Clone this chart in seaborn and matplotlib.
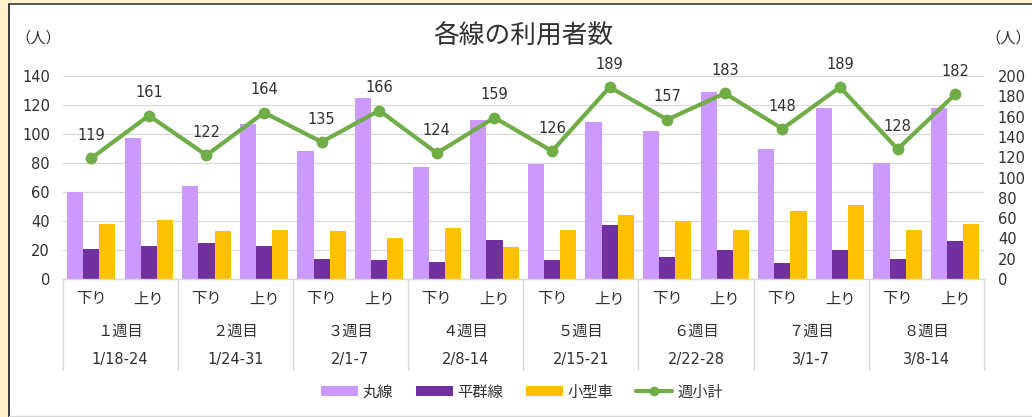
import matplotlib
matplotlib.use("Agg")
import matplotlib.pyplot as plt
import seaborn as sns
import pandas as pd
import numpy as np
from matplotlib.patches import Patch, Rectangle
from matplotlib.lines import Line2D
import matplotlib.transforms as mtransforms

# --- data -----------------------------------------------------------------
weeks = ["１週目", "２週目", "３週目", "４週目", "５週目", "６週目", "７週目", "８週目"]
periods = ["1/18-24", "1/24-31", "2/1-7", "2/8-14", "2/15-21", "2/22-28", "3/1-7", "3/8-14"]
directions = ["下り", "上り"]
series_names = ["丸線", "平群線", "小型車"]

maru = [60, 97, 64, 107, 88, 125, 77, 110, 79, 108, 102, 129, 90, 118, 80, 118]
heguri = [21, 23, 25, 23, 14, 13, 12, 27, 13, 37, 15, 20, 11, 20, 14, 26]
kogata = [38, 41, 33, 34, 33, 28, 35, 22, 34, 44, 40, 34, 47, 51, 34, 38]
subtotal = [119, 161, 122, 164, 135, 166, 124, 159, 126, 189, 157, 183, 148, 189, 128, 182]
line_name = "週小計"

bar_colors = ["#CC99FF", "#7030A0", "#FFC000"]
line_color = "#70AD47"
text_color = "#303030"

# --- long-form table for seaborn ----------------------------------------------
slots = [f"{w}-{d}" for w in weeks for d in directions]
rows = []
for name, vals in zip(series_names, [maru, heguri, kogata]):
    for slot, v in zip(slots, vals):
        rows.append({"slot": slot, "series": name, "value": v})
df = pd.DataFrame(rows)

sns.set_theme(style="white")
plt.rcParams["font.family"] = ["Noto Sans CJK JP", "DejaVu Sans"]
plt.rcParams["axes.unicode_minus"] = False
num_family = ["DejaVu Sans", "Noto Sans CJK JP"]

W, H = 1032, 417
fig = plt.figure(figsize=(W / 100, H / 100), dpi=100)
fig.patch.set_facecolor("#FFF2CC")

# white chart area with its frame
fig.patches.append(Rectangle((8.5 / W, 0), 1.0, 1 - 3.5 / H, transform=fig.transFigure,
                             facecolor="white", edgecolor="none", zorder=-10))
fig.add_artist(Line2D([8.5 / W, 8.5 / W], [0, 1 - 3.5 / H], transform=fig.transFigure,
                      color="#1a1a1a", lw=1.2))
fig.add_artist(Line2D([8.5 / W, 1], [1 - 3.5 / H, 1 - 3.5 / H], transform=fig.transFigure,
                      color="#3a3a3a", lw=1.2))
fig.add_artist(Line2D([9 / W, 1], [1 - 415.5 / H, 1 - 415.5 / H], transform=fig.transFigure,
                      color="#D9D9D9", lw=1.0))

ax = fig.add_axes([62.5 / W, 1 - 279 / H, (984 - 62.5) / W, (279 - 76) / H])
ax.set_facecolor("none")

sns.barplot(data=df, x="slot", y="value", hue="series", order=slots,
            hue_order=series_names, palette=bar_colors, saturation=1,
            width=0.84, ax=ax, legend=False, edgecolor="none", errorbar=None)

ax.set_xlim(-0.5, len(slots) - 0.5)
ax.set_ylim(0, 140)
ax.set_yticks(np.arange(0, 141, 20))
ax.yaxis.grid(True, color="#D9D9D9", lw=0.9)
ax.set_axisbelow(True)
for s in ["top", "right", "left"]:
    ax.spines[s].set_visible(False)
ax.spines["bottom"].set_color("#D9D9D9")
ax.spines["bottom"].set_linewidth(1.0)
ax.tick_params(axis="y", length=0, pad=9, labelsize=10.5, labelcolor=text_color)
ax.tick_params(axis="x", length=0, labelbottom=False)
for lab in ax.get_yticklabels():
    lab.set_family(num_family)
ax.set_xlabel("")
ax.set_ylabel("")

# multi-level category labels
trans = mtransforms.blended_transform_factory(ax.transData, ax.transAxes)
for i, slot in enumerate(slots):
    ax.text(i, -0.0985, directions[i % 2], transform=trans, ha="center", va="center",
            fontsize=11, color=text_color)
for k, (w, p) in enumerate(zip(weeks, periods)):
    c = 2 * k + 0.5
    ax.text(c, -0.256, w, transform=trans, ha="center", va="center",
            fontsize=11, color=text_color)
    ax.text(c, -0.399, p, transform=trans, ha="center", va="center",
            fontsize=10.5, color=text_color, family=num_family)
for b in np.arange(-0.5, len(slots), 2):
    ax.plot([b, b], [0, -0.448], transform=trans, color="#D9D9D9", lw=1.0,
            clip_on=False)

# weekly subtotal on the secondary axis
ax2 = ax.twinx()
ax2.set_ylim(0, 200)
ax2.set_yticks(np.arange(0, 201, 20))
xs = np.arange(len(slots))
sns.lineplot(x=xs, y=subtotal, ax=ax2, color=line_color, lw=3.0, marker="o",
             markersize=8.5, markeredgewidth=0, legend=False)
for x, v in zip(xs, subtotal):
    ax2.annotate(str(v), (x, v), xytext=(0, 11), textcoords="offset points",
                 ha="center", va="bottom", fontsize=10.5, color=text_color,
                 family=num_family, annotation_clip=False)
for s in ["top", "right", "left", "bottom"]:
    ax2.spines[s].set_visible(False)
ax2.tick_params(axis="y", length=0, pad=10, labelsize=10.5, labelcolor=text_color)
for lab in ax2.get_yticklabels():
    lab.set_family(num_family)
ax2.set_ylabel("")
ax2.grid(False)

# title and unit labels
fig.text(523 / W, 1 - 37 / H, "各線の利用者数", ha="center", va="center",
         fontsize=18.5, color=text_color)
fig.text(38.5 / W, 1 - 38 / H, "（人）", ha="center", va="center",
         fontsize=11, color=text_color)
fig.text(1008 / W, 1 - 38 / H, "（人）", ha="center", va="center",
         fontsize=11, color=text_color)

# legend
handles = [Patch(facecolor=c, edgecolor="none") for c in bar_colors]
handles.append(Line2D([0], [0], color=line_color, lw=3.0, marker="o", markersize=6))
labels = series_names + [line_name]
fig.legend(handles, labels, loc="center", bbox_to_anchor=(522 / W, 1 - 392 / H),
           ncol=4, frameon=False, fontsize=11, handlelength=2.4, handleheight=0.55,
           handletextpad=0.3, columnspacing=1.5, labelcolor=text_color)

fig.savefig("out.png", dpi=100, facecolor=fig.get_facecolor())
